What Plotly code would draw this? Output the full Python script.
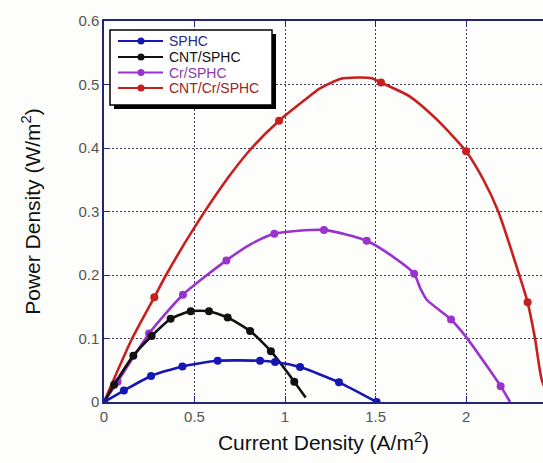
import plotly.graph_objects as go

# ---------------- data ----------------
sphc_x = [0, 0.110, 0.260, 0.433, 0.628, 0.862, 0.945, 1.083, 1.298, 1.506]
sphc_y = [0, 0.018, 0.041, 0.056, 0.065, 0.065, 0.063, 0.055, 0.031, 0.000]

cnt_x = [0, 0.056, 0.162, 0.263, 0.368, 0.479, 0.580, 0.683, 0.807, 0.922, 1.051, 1.114]
cnt_y = [0, 0.027, 0.073, 0.104, 0.131, 0.143, 0.143, 0.133, 0.112, 0.080, 0.032, 0.007]
cnt_mx = cnt_x[:-1]
cnt_my = cnt_y[:-1]

cr_x = [0, 0.075, 0.249, 0.436, 0.676, 0.807, 0.941, 1.215, 1.451, 1.580, 1.713, 1.746, 1.783, 1.917, 2.004, 2.191, 2.243]
cr_y = [0, 0.032, 0.108, 0.169, 0.223, 0.248, 0.265, 0.271, 0.254, 0.232, 0.202, 0.180, 0.161, 0.130, 0.101, 0.025, 0.000]
cr_mx = [0, 0.075, 0.249, 0.436, 0.676, 0.941, 1.215, 1.451, 1.713, 1.917, 2.191]
cr_my = [0, 0.032, 0.108, 0.169, 0.223, 0.265, 0.271, 0.254, 0.202, 0.130, 0.025]

cntcr_x = [0, 0.152, 0.278, 0.343, 0.500, 0.690, 0.816, 0.967, 1.101, 1.193, 1.309, 1.400, 1.479,
           1.530, 1.690, 1.838, 2.000, 2.096, 2.178, 2.294, 2.340, 2.381, 2.418, 2.470]
cntcr_y = [0, 0.098, 0.165, 0.200, 0.275, 0.355, 0.400, 0.443, 0.474, 0.494, 0.509, 0.511, 0.510,
           0.503, 0.481, 0.445, 0.395, 0.350, 0.300, 0.200, 0.157, 0.100, 0.035, 0.000]
cntcr_mx = [0, 0.278, 0.967, 1.530, 2.000, 2.340]
cntcr_my = [0, 0.165, 0.443, 0.503, 0.395, 0.157]

names = ["SPHC", "CNT/SPHC", "Cr/SPHC", "CNT/Cr/SPHC"]
line_colors = ["#1616b4", "#111111", "#9a32cd", "#c81e1e"]
text_colors = ["#2a2a80", "#111111", "#8a3aa8", "#a02222"]

x_ticks = [0, 0.5, 1, 1.5, 2]
x_tick_text = ["0", "0.5", "1", "1.5", "2"]
y_ticks = [0, 0.1, 0.2, 0.3, 0.4, 0.5, 0.6]
y_tick_text = ["0", "0.1", "0.2", "0.3", "0.4", "0.5", "0.6"]

# ---------------- figure ----------------
W, H = 543, 463
L, R, T, B = 104, 0, 21, 61
PW, PH = W - L - R, H - T - B

fig = go.Figure()

series = [
    (sphc_x, sphc_y, sphc_x, sphc_y),
    (cnt_x, cnt_y, cnt_mx, cnt_my),
    (cr_x, cr_y, cr_mx, cr_my),
    (cntcr_x, cntcr_y, cntcr_mx, cntcr_my),
]
# draw in order so blue is on top near origin
for idx in [3, 2, 1, 0]:
    lx, ly, mx, my = series[idx]
    fig.add_trace(go.Scatter(x=lx, y=ly, mode="lines", name=names[idx],
                             line=dict(color=line_colors[idx], width=2.6, shape="spline", smoothing=0.6),
                             showlegend=False, hoverinfo="skip"))
    fig.add_trace(go.Scatter(x=mx, y=my, mode="markers", name=names[idx],
                             marker=dict(color=line_colors[idx], size=8, symbol="circle"),
                             showlegend=False))

axis_col = "#24247a"
grid_col = "#3c3c5c"

fig.update_layout(
    width=W, height=H,
    margin=dict(l=L, r=R, t=T, b=B),
    paper_bgcolor="#fdfdfb", plot_bgcolor="#fdfdfb",
    font=dict(family="Liberation Sans, Arial", color="#111"),
    showlegend=False,
    xaxis=dict(range=[0, 2.425], tickvals=x_ticks, ticktext=x_tick_text,
               showline=True, linecolor=axis_col, linewidth=1.5, mirror="ticks",
               ticks="inside", ticklen=6, tickcolor=axis_col,
               showgrid=True, gridcolor=grid_col, gridwidth=1, griddash="2px,2px",
               zeroline=False,
               tickfont=dict(size=15, color="#555555"),
               title=dict(text="Current Density (A/m<sup>2</sup>)", font=dict(size=21, color="#111"), standoff=12)),
    yaxis=dict(range=[0, 0.6], tickvals=y_ticks, ticktext=y_tick_text,
               showline=True, linecolor=axis_col, linewidth=1.5,
               ticks="inside", ticklen=6, tickcolor=axis_col,
               showgrid=True, gridcolor=grid_col, gridwidth=1, griddash="2px,2px",
               zeroline=False,
               tickfont=dict(size=15, color="#555555"),
               title=dict(text="Power Density (W/m<sup>2</sup>)", font=dict(size=21, color="#111"), standoff=32)),
)

# ---------------- manual legend ----------------
def fx(px):
    return (px - L) / PW

def fy(py):
    return (H - B - py) / PH

bx0, bx1, by0, by1 = 110, 272, 30, 105
shapes = [
    dict(type="rect", xref="paper", yref="paper", x0=fx(bx0 + 4), x1=fx(bx1 + 4), y0=fy(by1 + 4), y1=fy(by0 + 4),
         fillcolor="#000000", line=dict(width=0), layer="above"),
    dict(type="rect", xref="paper", yref="paper", x0=fx(bx0), x1=fx(bx1), y0=fy(by1), y1=fy(by0),
         fillcolor="#ffffff", line=dict(color="#000000", width=1.5), layer="above"),
]
annotations = []
rows = [41, 57, 72.5, 88]
for i, ry in enumerate(rows):
    shapes.append(dict(type="line", xref="paper", yref="paper", x0=fx(118), x1=fx(163), y0=fy(ry), y1=fy(ry),
                       line=dict(color=line_colors[i], width=2.2), layer="above"))
    shapes.append(dict(type="circle", xref="paper", yref="paper", xsizemode="pixel", ysizemode="pixel",
                       xanchor=fx(141), yanchor=fy(ry), x0=-3.5, x1=3.5, y0=-3.5, y1=3.5,
                       fillcolor=line_colors[i], line=dict(width=0), layer="above"))
    annotations.append(dict(xref="paper", yref="paper", x=fx(167), y=fy(ry), text=names[i], showarrow=False,
                            xanchor="left", yanchor="middle",
                            font=dict(size=14, color=text_colors[i], family="Liberation Sans, Arial")))

fig.update_layout(shapes=shapes, annotations=annotations)

fig.write_html("out.html")
